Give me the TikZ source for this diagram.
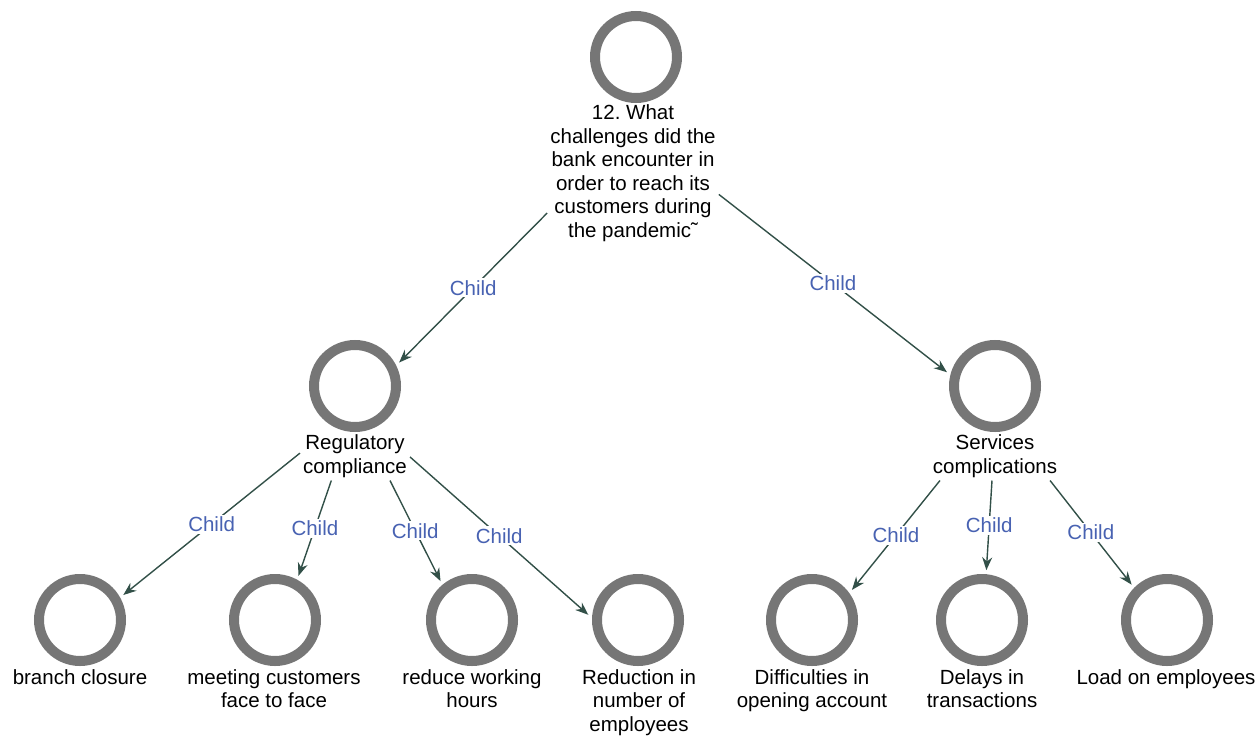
\documentclass[tikz,border=0pt]{standalone}
\usepackage{fontspec}
\setmainfont{Liberation Sans}
\usetikzlibrary{arrows.meta}
\definecolor{ringgray}{RGB}{118,118,118}
\definecolor{edgecol}{RGB}{50,80,72}
\definecolor{labcol}{RGB}{72,98,178}
\frenchspacing
\begin{document}
\begin{tikzpicture}[x=1pt,y=-1pt,
  ring/.style={circle,draw=ringgray,line width=10pt,minimum size=82pt,inner sep=0pt,outer sep=9pt},
  lbl/.style={font=\fontsize{20.5}{23.5}\selectfont,align=center,inner sep=0pt,text=black},
  conn/.style={draw=edgecol,line width=1.4pt,-{Stealth[length=13pt,width=10pt]}},
  childlbl/.style={font=\fontsize{20.5}{23.5}\selectfont,text=labcol,fill=white,inner sep=2pt,midway}]
\path[use as bounding box] (0,0) rectangle (1260,736);

\node[ring] (c0) at (636,57) {};
\node[lbl,inner sep=3pt] (t0) at (633,173) {12. What\\challenges did the\\bank encounter in\\order to reach its\\customers during\\the pandemic\symbol{"02DC}};

\node[ring] (c1) at (355,386) {};
\node[lbl,inner sep=3pt] (t1) at (355,456) {Regulatory\\compliance};
\node[ring] (c2) at (995,386) {};
\node[lbl,inner sep=3pt] (t2) at (995,456) {Services\\complications};

\node[ring] (c3) at (80,620) {};
\node[lbl,anchor=north] (t3) at (80,669) {branch closure};
\node[ring] (c4) at (275,620) {};
\node[lbl,anchor=north] (t4) at (274,669) {meeting customers\\face to face};
\node[ring] (c5) at (472,620) {};
\node[lbl,anchor=north] (t5) at (472,669) {reduce working\\hours};
\node[ring] (c6) at (638,620) {};
\node[lbl,anchor=north] (t6) at (639,669) {Reduction in\\number of\\employees};
\node[ring] (c7) at (812,620) {};
\node[lbl,anchor=north] (t7) at (812,669) {Difficulties in\\opening account};
\node[ring] (c8) at (982,620) {};
\node[lbl,anchor=north] (t8) at (982,669) {Delays in\\transactions};
\node[ring] (c9) at (1167,620) {};
\node[lbl,anchor=north] (t9) at (1166,669) {Load on employees};

\draw[conn] (t0.205) -- node[childlbl]{Child} (c1.28);
\draw[conn] (t0.346) -- node[childlbl]{Child} (c2.164);
\draw[conn] (t1.177) -- node[childlbl]{Child} (c3.30);
\draw[conn] (t1.226) -- node[childlbl]{Child} (c4.62);
\draw[conn] (t1.325) -- node[childlbl]{Child} (c5.129);
\draw[conn] (t1.359) -- node[childlbl]{Child} (c6.174);
\draw[conn] (t2.204) -- node[childlbl]{Child} (c7.37);
\draw[conn] (t2.263) -- node[childlbl]{Child} (c8.85);
\draw[conn] (t2.336) -- node[childlbl]{Child} (c9.135);
\end{tikzpicture}
\end{document}
